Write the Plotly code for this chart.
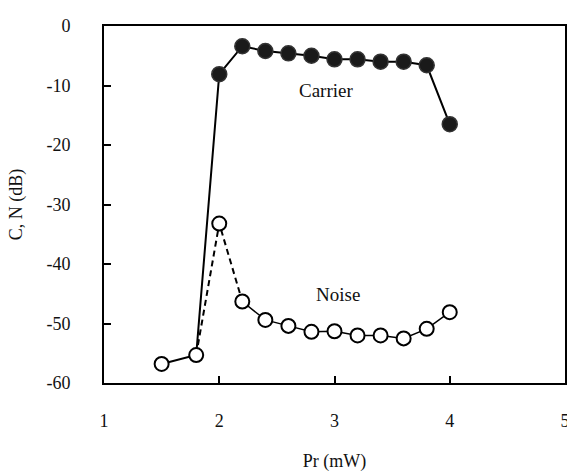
import plotly.graph_objects as go

# Shared points below threshold (carrier == noise)
low_x = [1.5, 1.8]
low_y = [-56.8, -55.3]

# Above threshold
pr_x = [2.0, 2.2, 2.4, 2.6, 2.8, 3.0, 3.2, 3.4, 3.6, 3.8, 4.0]
carrier_y = [-8.1, -3.4, -4.2, -4.6, -5.0, -5.6, -5.6, -6.0, -6.0, -6.6, -16.5]
noise_y = [-33.2, -46.3, -49.4, -50.4, -51.4, -51.3, -52.0, -52.0, -52.5, -50.9, -48.1]

x_ticks = [1, 2, 3, 4, 5]
y_ticks = [0, -10, -20, -30, -40, -50, -60]

FONT = "Liberation Serif"
TXT = "#111"
fig = go.Figure()

# Solid carrier line (including shared low-power points)
fig.add_trace(go.Scatter(x=low_x + pr_x, y=low_y + carrier_y, mode="lines",
                         line=dict(color="black", width=2), showlegend=False))
# Dashed noise rise
fig.add_trace(go.Scatter(x=[low_x[-1]] + pr_x[:2], y=[low_y[-1]] + noise_y[:2], mode="lines",
                         line=dict(color="black", width=2, dash="6px,4px"), showlegend=False))
# Thin noise line
fig.add_trace(go.Scatter(x=pr_x[1:], y=noise_y[1:], mode="lines",
                         line=dict(color="black", width=1.5), showlegend=False))
# Noise markers (open)
fig.add_trace(go.Scatter(x=low_x + pr_x, y=low_y + noise_y, mode="markers",
                         marker=dict(symbol="circle", size=14, color="white",
                                     line=dict(color="black", width=2)), showlegend=False))
# Carrier markers (filled)
fig.add_trace(go.Scatter(x=pr_x, y=carrier_y, mode="markers",
                         marker=dict(symbol="circle", size=15, color="#1a1a1a",
                                     line=dict(color="#333333", width=1.5)), showlegend=False))

fig.add_annotation(x=2.93, y=-10.8, text="Carrier", showarrow=False,
                   font=dict(family=FONT, size=19, color=TXT))
fig.add_annotation(x=3.03, y=-45.2, text="Noise", showarrow=False,
                   font=dict(family=FONT, size=19, color=TXT))

fig.update_xaxes(range=[1, 5], tickvals=x_ticks, ticktext=[str(v) for v in x_ticks],
                 showline=True, mirror=True, linecolor="black", linewidth=2,
                 ticks="inside", ticklen=7, tickwidth=2, tickcolor="black",
                 showgrid=False, zeroline=False, ticklabelstandoff=20,
                 ticklabeloverflow="allow", automargin=False,
                 tickfont=dict(family=FONT, size=18, color=TXT),
                 title=dict(text="Pr (mW)", font=dict(family=FONT, size=18, color=TXT), standoff=31))
fig.update_yaxes(range=[-60, 0], tickvals=y_ticks, ticktext=[str(v) for v in y_ticks],
                 showline=True, mirror=True, linecolor="black", linewidth=2,
                 ticks="inside", ticklen=7, tickwidth=2, tickcolor="black",
                 showgrid=False, zeroline=False, ticklabelstandoff=28,
                 ticklabeloverflow="allow", automargin=False,
                 tickfont=dict(family=FONT, size=18, color=TXT),
                 title=dict(text="C, N (dB)", font=dict(family=FONT, size=18, color=TXT), standoff=19))

fig.update_layout(width=567, height=472, margin=dict(l=104, r=2, t=26, b=89),
                  paper_bgcolor="white", plot_bgcolor="white")
fig.write_html("out.html", config={"displayModeBar": False},
               post_script="document.body.style.margin='0';document.body.style.overflow='hidden';")
